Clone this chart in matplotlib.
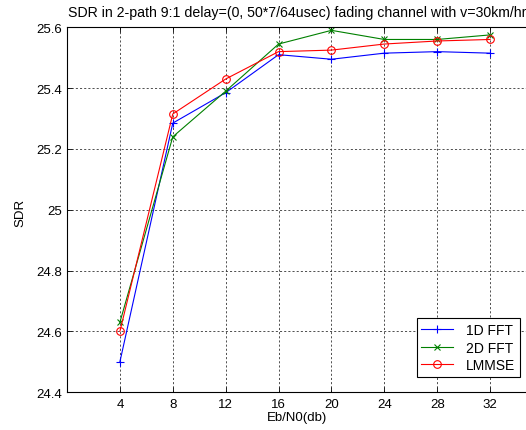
import matplotlib
matplotlib.use("Agg")
import matplotlib.pyplot as plt

plt.rcParams['font.family'] = ['Liberation Sans', 'DejaVu Sans']

ebn0 = [4, 8, 12, 16, 20, 24, 28, 32]
sdr_1d_fft = [24.50, 25.285, 25.385, 25.51, 25.495, 25.515, 25.52, 25.515]
sdr_2d_fft = [24.63, 25.24, 25.39, 25.545, 25.59, 25.56, 25.56, 25.575]
sdr_lmmse = [24.60, 25.315, 25.43, 25.52, 25.525, 25.545, 25.555, 25.56]

series_labels = ['1D FFT', '2D FFT', 'LMMSE']
title_text = 'SDR in 2-path 9:1 delay=(0, 50*7/64usec) fading channel with v=30km/hr'
x_label = 'Eb/N0(db)'
y_label = 'SDR'
y_ticks = [24.4, 24.6, 24.8, 25.0, 25.2, 25.4, 25.6]
y_tick_labels = ['24.4', '24.6', '24.8', '25', '25.2', '25.4', '25.6']

W, H = 526, 431
fig = plt.figure(figsize=(W / 100, H / 100), dpi=100)
fig.patch.set_facecolor('white')

left, right, top, bottom = 67, 543, 28.3, 393.3
ax = fig.add_axes([left / W, 1 - bottom / H, (right - left) / W, (bottom - top) / H])

fs = 9.5
ax.plot(ebn0, sdr_1d_fft, color='#0000ff', lw=0.8, marker='+', ms=6, mew=0.8, label=series_labels[0])
ax.plot(ebn0, sdr_2d_fft, color='#008000', lw=0.8, marker='x', ms=4, mew=0.8, label=series_labels[1])
ax.plot(ebn0, sdr_lmmse, color='#ff0000', lw=0.8, marker='o', ms=5.5, mew=0.8,
        fillstyle='none', label=series_labels[2])

ax.set_xlim(0, 36)
ax.set_ylim(24.4, 25.6)
ax.set_xticks(ebn0)
ax.set_xticklabels([str(v) for v in ebn0], fontsize=fs)
ax.set_yticks(y_ticks)
ax.set_yticklabels(y_tick_labels, fontsize=fs)
ax.tick_params(direction='in', length=3.5, width=0.6, top=True, right=True, colors='black')
ax.tick_params(axis='y', pad=3.5)
ax.tick_params(axis='x', pad=4)
ax.grid(True, color='#333333', linestyle=(0, (2.5, 2.5)), lw=0.6)
for s in ax.spines.values():
    s.set_linewidth(0.8)
    s.set_color('black')

fig.text(68 / W, 1 - 13 / H, title_text, fontsize=10.2, ha='left', va='center')
fig.text(296.5 / W, 1 - 418 / H, x_label, fontsize=fs, ha='center', va='center')
fig.text(20 / W, 1 - 213 / H, y_label, fontsize=fs, ha='center', va='center', rotation=90)

leg = ax.legend(loc='lower right', bbox_to_anchor=(520 / W, 1 - 378 / H),
                bbox_transform=fig.transFigure, borderaxespad=0, fontsize=10,
                fancybox=False, framealpha=1, edgecolor='black',
                handlelength=2.3, handletextpad=0.9, labelspacing=0.25,
                borderpad=0.35)
leg.get_frame().set_linewidth(0.8)

fig.savefig('out.png', dpi=100)
